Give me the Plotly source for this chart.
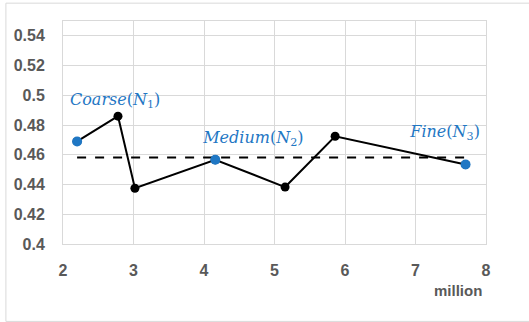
import plotly.graph_objects as go

# Data
x_line = [2.2, 2.78, 3.02, 4.16, 5.15, 5.86, 7.71]
y_line = [0.469, 0.486, 0.4375, 0.4567, 0.4383, 0.4725, 0.4535]
x_mesh = [2.2, 4.16, 7.71]
y_mesh = [0.469, 0.4567, 0.4535]
mesh_labels = ["<i>Coarse</i>(<i>N</i><sub>1</sub>)",
               "<i>Medium</i>(<i>N</i><sub>2</sub>)",
               "<i>Fine</i>(<i>N</i><sub>3</sub>)"]
label_x = [2.74, 4.70, 7.42]
label_y = [0.4963, 0.4709, 0.4750]
mean_x = [2.2, 7.73]
mean_y = [0.4582, 0.4582]
x_ticks = [2, 3, 4, 5, 6, 7, 8]
y_ticks = [0.4, 0.42, 0.44, 0.46, 0.48, 0.5, 0.52, 0.54]
y_tick_text = ["0.4", "0.42", "0.44", "0.46", "0.48", "0.5", "0.52", "0.54"]

blue = "#1f77c4"
fig = go.Figure()
fig.add_trace(go.Scatter(x=mean_x, y=mean_y, mode="lines",
                         line=dict(color="black", width=2, dash="dash"),
                         hoverinfo="skip"))
fig.add_trace(go.Scatter(x=x_line, y=y_line, mode="lines+markers",
                         line=dict(color="black", width=2),
                         marker=dict(color="black", size=9)))
fig.add_trace(go.Scatter(x=x_mesh, y=y_mesh, mode="markers",
                         marker=dict(color=blue, size=10)))
fig.add_trace(go.Scatter(x=label_x, y=label_y, mode="text", text=mesh_labels,
                         textfont=dict(family="DejaVu Serif", size=16, color=blue),
                         hoverinfo="skip"))

tick_font = dict(family="Liberation Sans", size=16, color="#595959", weight="bold")
fig.update_layout(
    width=529, height=322,
    margin=dict(l=63, r=43, t=21, b=78),
    plot_bgcolor="white", paper_bgcolor="white",
    showlegend=False,
    xaxis=dict(range=[2, 8], tickvals=x_ticks, showgrid=True, gridcolor="#d9d9d9",
               gridwidth=1, showline=True, linecolor="#d9d9d9", mirror=True,
               zeroline=False, tickfont=tick_font, ticks="", ticklabelstandoff=12,
               automargin=False),
    yaxis=dict(range=[0.4, 0.55], tickvals=y_ticks, ticktext=y_tick_text,
               showgrid=True, gridcolor="#d9d9d9", gridwidth=1, showline=True,
               linecolor="#d9d9d9", mirror=True, zeroline=False,
               tickfont=tick_font, ticks="", ticklabelstandoff=14,
               automargin=False),
    shapes=[dict(type="rect", xref="paper", yref="paper",
                 x0=-0.135, x1=1.2, y0=-0.347, y1=1.08,
                 line=dict(color="#d9d9d9", width=1), fillcolor="rgba(0,0,0,0)",
                 layer="below")],
    annotations=[dict(text="million", xref="x", yref="paper", x=7.6, y=-0.21,
                      showarrow=False, font=dict(family="Liberation Sans", size=15,
                                                 color="#595959", weight="bold"),
                      xanchor="center", yanchor="middle")],
)
fig.write_html("out.html", config={"displayModeBar": False},
               post_script="document.body.style.margin='0';")
